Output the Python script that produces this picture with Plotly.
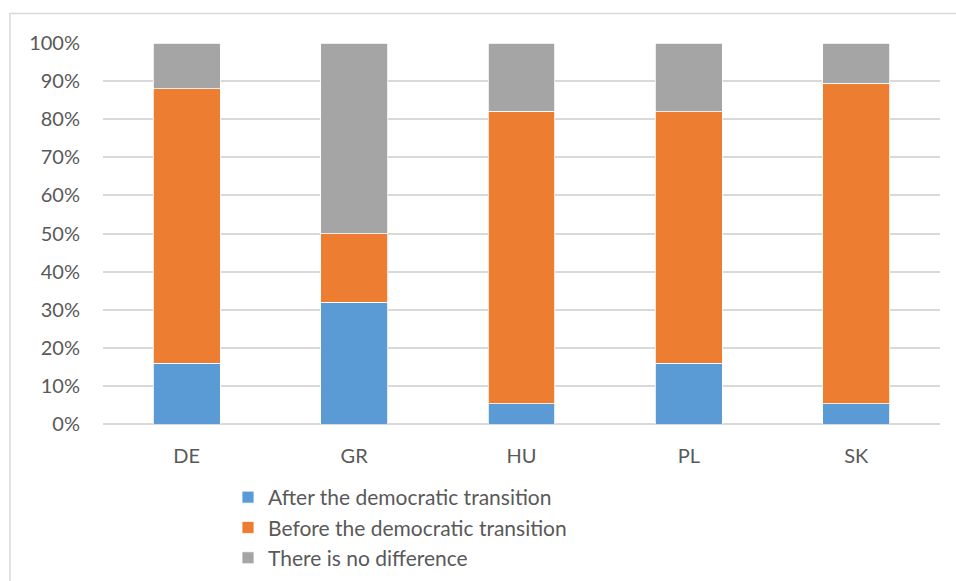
import plotly.graph_objects as go

# Country codes along the x axis
countries = ["DE", "GR", "HU", "PL", "SK"]

# Share of respondents (%) per answer
after_transition = [16.0, 32.0, 5.3, 16.0, 5.3]
before_transition = [72.0, 18.0, 76.8, 66.0, 84.2]
no_difference = [12.0, 50.0, 17.9, 18.0, 10.5]

series_names = [
    "After the democratic transition",
    "Before the democratic transition",
    "There is no difference",
]
series_colors = ["#5B9BD5", "#ED7D31", "#A5A5A5"]

W, H = 956, 581
L, R, T, B = 103, 16, 42.5, 156.5
plot_w = W - L - R
plot_h = H - T - B

text_color = "#595959"
grid_color = "#D9D9D9"
font_family = "Lato, 'Open Sans', sans-serif"

fig = go.Figure()
for name, vals, color in zip(series_names,
                             [after_transition, before_transition, no_difference],
                             series_colors):
    fig.add_trace(go.Bar(
        x=countries, y=vals, name=name,
        marker=dict(color=color, line=dict(color="white", width=0.8)),
        hoverinfo="x+y+name",
    ))

# Outer chart frame (left and top edges visible; it continues past the page)
fx0 = (10 - L) / plot_w
fy1 = 1 + (T - 13) / plot_h
fig.add_shape(type="rect", xref="paper", yref="paper",
              x0=fx0, x1=1.2, y0=-0.6, y1=fy1,
              line=dict(color=grid_color, width=1.5), layer="below")

fig.update_layout(
    width=W, height=H,
    margin=dict(l=L, r=R, t=T, b=B, pad=0, autoexpand=False),
    barmode="stack",
    bargap=0.6,
    paper_bgcolor="white",
    plot_bgcolor="white",
    font=dict(family=font_family, color=text_color, size=20),
    showlegend=True,
    legend=dict(
        orientation="v",
        traceorder="normal",
        xref="paper", x=(228 - L) / plot_w, xanchor="left",
        yref="container", y=1 - 477 / H, yanchor="top",
        font=dict(size=21, color=text_color, family=font_family),
        bgcolor="rgba(0,0,0,0)",
        itemclick=False, itemdoubleclick=False,
    ),
    xaxis=dict(
        showgrid=False, showline=False, zeroline=False,
        ticks="", ticklabelstandoff=18,
        tickfont=dict(size=20, color=text_color),
        fixedrange=True,
    ),
    yaxis=dict(
        range=[0, 100], dtick=10, ticksuffix="%",
        showgrid=True, gridcolor=grid_color, gridwidth=1.5,
        zeroline=True, zerolinecolor=grid_color, zerolinewidth=1.5,
        showline=False, ticks="", ticklabelstandoff=22,
        tickfont=dict(size=20, color=text_color),
        fixedrange=True,
    ),
)

fig.write_html("out.html", config={"displayModeBar": False})
